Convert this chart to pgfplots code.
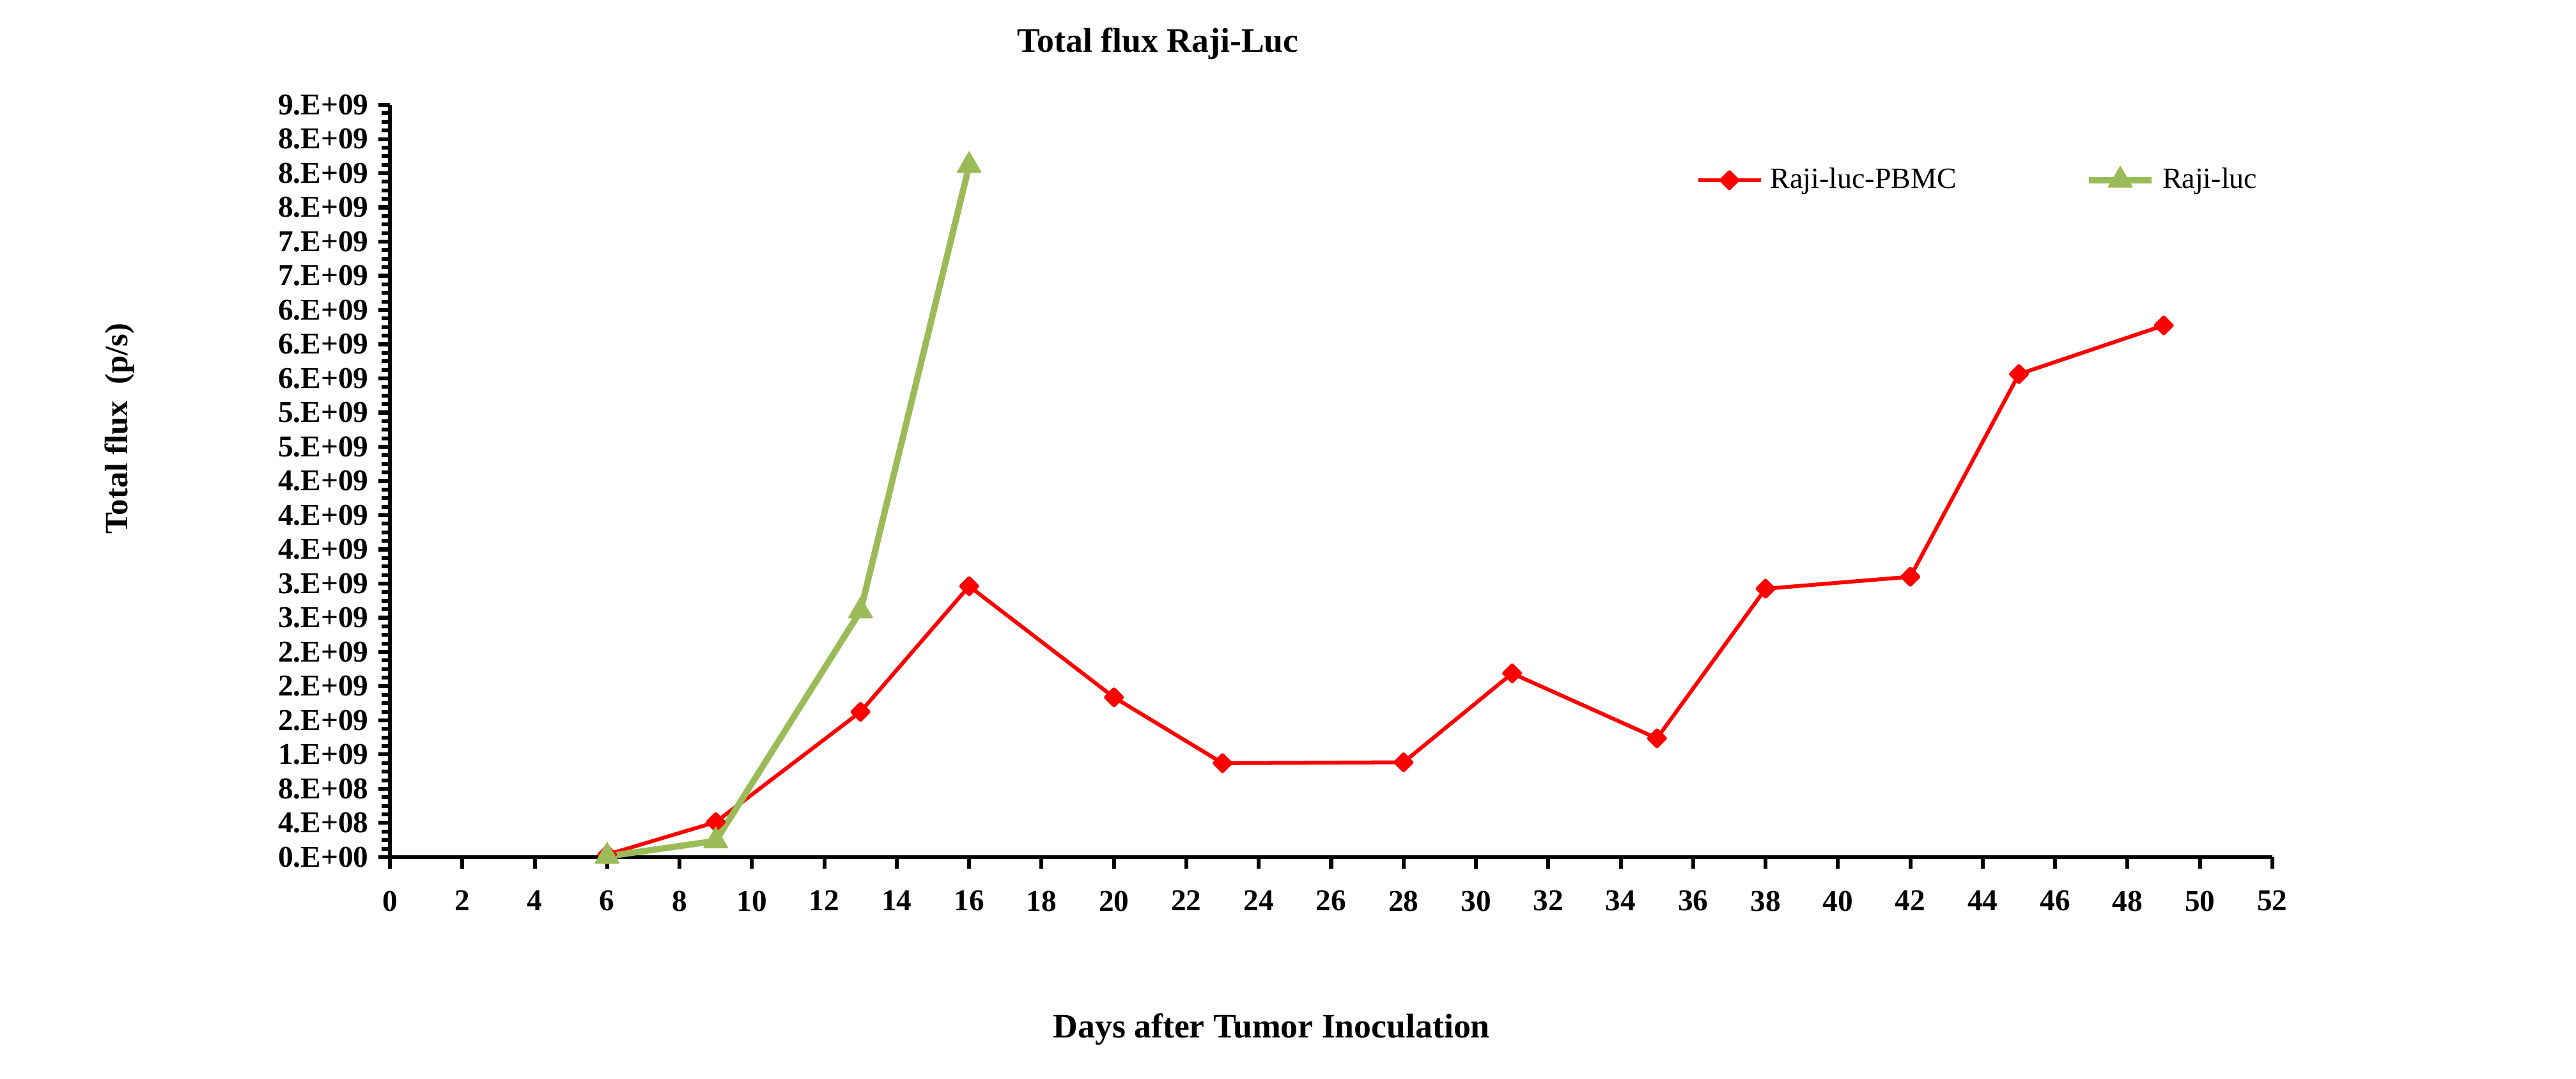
\documentclass[border=0pt]{standalone}
\usepackage{fontspec}
\setmainfont{Liberation Serif}
\usepackage{pgfplots}
\pgfplotsset{compat=1.18}
\definecolor{xlred}{HTML}{FF0000}
\definecolor{xlgreen}{HTML}{9BBB59}
\begin{document}
\begin{tikzpicture}
\path[use as bounding box] (0,0) rectangle (937.21pt,392.56pt);
\begin{axis}[
  at={(141.86pt,80.70pt)}, anchor=south west,
  scale only axis, width=684.88pt, height=273.72pt,
  xmin=0, xmax=52, ymin=0, ymax=8.8,
  axis x line*=bottom, axis y line*=left,
  axis line style={line width=1.5pt, black, -},
  xtick={0,2,...,52},
  ytick={0,0.4,0.8,1.2,1.6,2,2.4,2.8,3.2,3.6,4,4.4,4.8,5.2,5.6,6,6.4,6.8,7.2,7.6,8,8.4,8.8},
  yticklabels={0.E+00,4.E+08,8.E+08,1.E+09,2.E+09,2.E+09,2.E+09,3.E+09,3.E+09,4.E+09,4.E+09,4.E+09,5.E+09,5.E+09,6.E+09,6.E+09,6.E+09,7.E+09,7.E+09,8.E+09,8.E+09,8.E+09,9.E+09},
  minor y tick num=3,
  minor x tick num=0,
  tick align=outside,
  major tick length=4.3pt, minor tick length=3pt,
  tick style={black, line width=1.4pt},
  /pgf/number format/assume math mode=true,
  ticklabel style={font=\fontsize{11}{13}\selectfont\bfseries},
  xticklabel style={yshift=-4.4pt},
  clip=false,
  legend columns=2,
  legend cell align=left,
  legend image code/.code={\draw[mark repeat=2,mark phase=2,#1] plot coordinates {(0pt,0pt) (11.4pt,0pt) (22.8pt,0pt)};},
  legend style={at={(0.6936,0.9006)}, anchor=west, draw=none, fill=none, inner sep=0pt,
    font=\fontsize{10.7}{12}\selectfont, nodes={inner sep=0pt},
    /tikz/every odd column/.append style={column sep=2.8pt},
    /tikz/every even column/.append style={column sep=47pt}},
]
\addplot[xlred, line width=1.4pt, line join=round, mark=square*, mark size=2.05pt,
  mark options={rotate=45, solid, fill=xlred, draw=xlred}]
  coordinates {(6,0.03) (9,0.41) (13,1.70) (16,3.17) (20,1.87) (23,1.10) (28,1.11) (31,2.15) (35,1.39) (38,3.14) (42,3.28) (45,5.65) (49,6.22)};
\addlegendentry{Raji-luc-PBMC}
\addplot[xlgreen, line width=2.3pt, line join=round, mark=triangle*, mark size=4.9pt,
  mark options={solid, fill=xlgreen, draw=xlgreen, line width=0.5pt}]
  coordinates {(6,0.01) (9,0.19) (13,2.88) (16,8.09)};
\addlegendentry{Raji-luc}
\end{axis}
\node[anchor=base, inner sep=0pt, font=\fontsize{12.5}{15}\selectfont\bfseries] at (421.3pt,373.5pt) {Total flux Raji-Luc};
\node[anchor=base west, rotate=90, inner sep=0pt, font=\fontsize{11.8}{14}\selectfont\bfseries] at (46.5pt,198.1pt) {Total flux\ \ (p/s)};
\node[anchor=base, inner sep=0pt, font=\fontsize{12.5}{15}\selectfont\bfseries] at (462.6pt,15pt) {Days after Tumor Inoculation};
\end{tikzpicture}
\end{document}
